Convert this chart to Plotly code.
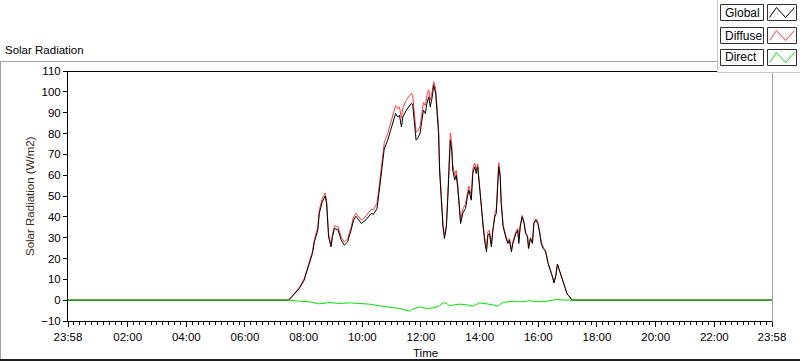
import datetime as dt
import plotly.graph_objects as go

# ---------------- data ----------------
START = "2016-03-14 23:58"
DAY = "2016-03-15"
END = "2016-03-15 23:58"

global_times = ["07:29", "07:37", "07:51", "08:01", "08:12", "08:18", "08:22", "08:29", "08:32", "08:38",
                "08:44", "08:47", "08:51", "08:56", "08:59", "09:03", "09:10", "09:17", "09:23", "09:30",
                "09:37", "09:42", "09:47", "09:58", "10:08", "10:18", "10:23", "10:30", "10:34", "10:39",
                "10:42", "10:45", "10:52", "10:57", "11:02", "11:08", "11:13", "11:16", "11:20", "11:23",
                "11:30", "11:35", "11:40", "11:43", "11:47", "11:50", "11:53", "11:58", "12:02", "12:05",
                "12:09", "12:12", "12:16", "12:19", "12:23", "12:26", "12:30", "12:32", "12:36", "12:38",
                "12:41", "12:45", "12:48", "12:52", "12:55", "12:57", "13:00", "13:03", "13:05", "13:09",
                "13:12", "13:15", "13:19", "13:21", "13:26", "13:31", "13:35", "13:38", "13:43", "13:46",
                "13:50", "13:53", "13:56", "14:00", "14:03", "14:07", "14:10", "14:14", "14:17", "14:20",
                "14:24", "14:27", "14:31", "14:34", "14:37", "14:39", "14:42", "14:44", "14:48", "14:51",
                "14:55", "14:58", "15:01", "15:05", "15:08", "15:14", "15:18", "15:20", "15:23", "15:27",
                "15:31", "15:34", "15:38", "15:40", "15:44", "15:48", "15:51", "15:55", "15:59", "16:03",
                "16:06", "16:10", "16:15", "16:20", "16:25", "16:29", "16:32", "16:36", "16:39", "16:44",
                "16:49", "16:54", "16:59", "17:04", "17:09"]

global_vals = [0, 1.9, 5.6, 9.6, 17.6, 22.4, 28, 33.6, 41.6, 47.2,
               50, 46.4, 30.4, 25.6, 30.4, 34.4, 33.9, 28.8, 26.4, 28,
               33.6, 38.4, 40.3, 36.8, 38.7, 41.6, 41.3, 44, 51.2, 62.4,
               68.8, 72.8, 76.8, 80.8, 85.6, 89.6, 88, 88.8, 83.2, 88,
               91.2, 92.8, 94.4, 94, 83.2, 76.8, 77.6, 80, 86.4, 91.2,
               89.6, 94.4, 97.6, 92.8, 97.6, 103.2, 99.2, 92.8, 80, 62.4,
               49.6, 35.2, 29.6, 35.2, 49.6, 64, 76.8, 72, 62.4, 57.6,
               60, 54.4, 44.8, 36.8, 42, 44, 49.6, 52.8, 48, 60.8,
               64, 60.8, 64, 52.8, 46.4, 33.6, 28.8, 23.2, 31.2, 32,
               25.6, 33.6, 40, 41.6, 54.4, 64, 59.2, 46.4, 35.2, 32,
               28.8, 27.2, 28.8, 23.2, 27.2, 32, 33.6, 27.2, 35.2, 40,
               36.8, 32, 30.4, 24.8, 29.6, 27.2, 36.8, 38.4, 36.8, 32,
               27.2, 24.8, 23.2, 17.6, 14.4, 11.2, 8.3, 12, 17.3, 13.6,
               10.4, 6.4, 2.9, 1.6, 0]

diffuse_times = global_times
diffuse_vals = [0, 2.1, 6.1, 10.2, 18.4, 23.4, 29.2, 35.2, 43.3, 48.8,
                51.4, 47.7, 31.6, 26.8, 31.6, 35.7, 35.4, 30.3, 27.9, 29.4,
                35.0, 39.8, 41.8, 38.4, 40.5, 43.6, 43.5, 46.5, 53.8, 65.2,
                71.7, 75.8, 80.0, 84.2, 89.2, 93.4, 91.9, 92.8, 87.4, 92.4,
                96.0, 97.9, 99.2, 98.5, 87.2, 80.6, 81.2, 83.3, 89.8, 94.8,
                93.4, 98.2, 101.0, 96.0, 100.4, 104.8, 101.8, 95.6, 82.7, 64.8,
                51.4, 36.3, 30.7, 36.3, 51.5, 66.5, 80.2, 74.8, 64.8, 59.9,
                62.2, 56.5, 46.9, 38.9, 44.0, 45.9, 51.4, 54.8, 50.2, 63.2,
                65.8, 62.5, 65.4, 53.9, 47.8, 35.3, 30.7, 25.3, 33.0, 33.6,
                26.9, 34.7, 41.6, 43.7, 56.8, 66.0, 61.3, 48.0, 36.3, 33.1,
                29.8, 28.1, 29.7, 24.1, 28.0, 32.8, 34.4, 28.0, 36.0, 40.7,
                37.4, 32.5, 30.8, 25.1, 30.0, 27.7, 37.4, 39.1, 37.5, 32.8,
                27.9, 25.4, 23.7, 18.0, 14.6, 11.3, 8.3, 12, 17.3, 13.6,
                10.4, 6.4, 2.9, 1.6, 0]

direct_times = ["07:31", "07:51", "08:12", "08:32", "08:53", "09:13", "09:34", "09:54", "10:15", "10:35",
                "10:56", "11:16", "11:37", "11:43", "11:57", "12:11", "12:24", "12:38", "12:45", "12:52",
                "12:58", "13:05", "13:19", "13:33", "13:46", "14:00", "14:14", "14:27", "14:37", "14:48",
                "15:08", "15:22", "15:42", "16:03", "16:17", "16:37", "16:58", "17:08"]
direct_vals = [0, -0.5, -0.8, -1.8, -1.1, -1.6, -1.3, -1.6, -1.9, -2.7,
               -3.4, -4.0, -5.3, -4.3, -3.2, -4.0, -3.7, -2.7, -1.3, -1.5,
               -2.6, -2.4, -1.9, -2.2, -2.9, -1.3, -1.6, -2.2, -2.9, -1.0,
               -0.6, -0.8, -0.3, -0.8, -0.5, 0.3, 0, 0]

night_value = 0

tick_times = ["23:58", "02:00", "04:00", "06:00", "08:00", "10:00", "12:00",
              "14:00", "16:00", "18:00", "20:00", "22:00", "23:58"]
y_ticks = list(range(-10, 111, 10))

SERIES = [("Diffuse", diffuse_times, diffuse_vals, "#ff3b3b"),
          ("Global", global_times, global_vals, "#000000"),
          ("Direct", direct_times, direct_vals, "#00e600")]

# ---------------- helpers ----------------
W, H = 800, 361
L, R, T, B = 68, 772, 71, 321
FONT = "Liberation Sans"


def px(x):
    return (x - L) / (R - L)


def py(y):
    return (B - y) / (B - T)


def full_day(times, vals):
    xs = [START] + [f"{DAY} {t}" for t in times] + [END]
    ys = [night_value] + list(vals) + [night_value]
    return xs, ys


tick_vals = [START] + [f"{DAY} {t}" for t in tick_times[1:-1]] + [END]
tick_dt = [dt.datetime.strptime(v, "%Y-%m-%d %H:%M") for v in tick_vals]
minor_vals = []
for a, b in zip(tick_dt[:-1], tick_dt[1:]):
    step = (b - a) / 10
    for k in range(1, 10):
        minor_vals.append((a + step * k).strftime("%Y-%m-%d %H:%M:%S"))

fig = go.Figure()
for name, times, vals, color in SERIES:
    xs, ys = full_day(times, vals)
    fig.add_trace(go.Scatter(x=xs, y=ys, mode="lines", name=name,
                             line=dict(color=color, width=1), hoverinfo="skip"))

P = dict(xref="paper", yref="paper")
shapes = []
# outer frame
shapes.append(dict(type="line", x0=px(0), x1=px(717), y0=py(61.5), y1=py(61.5),
                   line=dict(color="#a0a0a0", width=1), **P))
shapes.append(dict(type="line", x0=px(0.5), x1=px(0.5), y0=py(61.5), y1=py(361),
                   line=dict(color="#a0a0a0", width=1), **P))
shapes.append(dict(type="line", x0=px(0), x1=px(800), y0=py(360), y1=py(360),
                   line=dict(color="#202020", width=2), **P))
# plot frame (top black, right gray)
shapes.append(dict(type="line", x0=px(68), x1=px(717), y0=py(71.5), y1=py(71.5),
                   line=dict(color="#000000", width=1), **P))
shapes.append(dict(type="line", x0=px(772.5), x1=px(772.5), y0=py(71), y1=py(322),
                   line=dict(color="#a0a0a0", width=1), **P))
# legend panel
shapes.append(dict(type="rect", x0=px(717.5), x1=px(801), y0=py(-1), y1=py(72.5),
                   fillcolor="#ffffff", line=dict(color="#c8c8c8", width=1), layer="above", **P))

annotations = []
legend_rows = [("Global", "#000000"), ("Diffuse", "#ff3b3b"), ("Direct", "#00e600")]
for i, (name, color) in enumerate(legend_rows):
    top = 4.5 + round(i * 22.7)
    bot = top + 16
    shapes.append(dict(type="rect", x0=px(720.5), x1=px(763.5), y0=py(bot), y1=py(top),
                       fillcolor="#ffffff", line=dict(color="#303030", width=1), layer="above", **P))
    shapes.append(dict(type="rect", x0=px(767.5), x1=px(796.5), y0=py(bot), y1=py(top),
                       fillcolor="#ffffff", line=dict(color="#303030", width=1), layer="above", **P))
    zx = [769.5, 776.5, 785.5, 794.5]
    zy = [bot - 3, top + 3, bot - 3, top + 3]
    path = "M " + " L ".join(f"{px(a):.5f},{py(b):.5f}" for a, b in zip(zx, zy))
    shapes.append(dict(type="path", path=path, line=dict(color=color, width=1), layer="above", **P))
    annotations.append(dict(x=px(722.5), y=py((top + bot) / 2), xref="paper", yref="paper",
                            text=name, showarrow=False, xanchor="left", yanchor="middle",
                            font=dict(family=FONT, size=12, color="#000000")))

annotations.append(dict(x=px(3), y=py(50), xref="paper", yref="paper", text="Solar Radiation",
                        showarrow=False, xanchor="left", yanchor="middle",
                        font=dict(family=FONT, size=11.5, color="#000000")))
annotations.append(dict(x=px(30), y=py(196), xref="paper", yref="paper",
                        text="Solar Radiation (W/m2)", textangle=-90, showarrow=False,
                        xanchor="center", yanchor="middle",
                        font=dict(family=FONT, size=11.5, color="#3a2a20")))
annotations.append(dict(x=px(425), y=py(353), xref="paper", yref="paper", text="Time",
                        showarrow=False, xanchor="center", yanchor="middle",
                        font=dict(family=FONT, size=11.5, color="#000000")))

fig.update_layout(
    width=W, height=H,
    margin=dict(l=L, r=W - R, t=T, b=H - B, pad=0),
    paper_bgcolor="#ffffff", plot_bgcolor="#ffffff",
    showlegend=False,
    shapes=shapes, annotations=annotations,
    font=dict(family=FONT, size=11.5, color="#000000"),
    xaxis=dict(type="date", range=[START, END], tickmode="array", tickvals=tick_vals,
               ticktext=tick_times, showgrid=False, zeroline=False,
               showline=True, linecolor="#000000", linewidth=1,
               ticks="outside", ticklen=5, tickcolor="#000000", tickwidth=1,
               tickfont=dict(family=FONT, size=11.5, color="#000000"),
               minor=dict(tickmode="array", tickvals=minor_vals, ticks="outside",
                          ticklen=3, tickcolor="#000000", tickwidth=1, showgrid=False),
               fixedrange=True),
    yaxis=dict(range=[-10, 110], tickmode="array", tickvals=y_ticks,
               showgrid=False, zeroline=False,
               showline=True, linecolor="#000000", linewidth=1,
               ticks="outside", ticklen=4, tickcolor="#000000", tickwidth=1,
               tickfont=dict(family=FONT, size=11.5, color="#000000"),
               fixedrange=True),
)

fig.write_html("out.html", config={"displayModeBar": False},
               post_script="document.body.style.margin='0';document.body.style.overflow='hidden';")
